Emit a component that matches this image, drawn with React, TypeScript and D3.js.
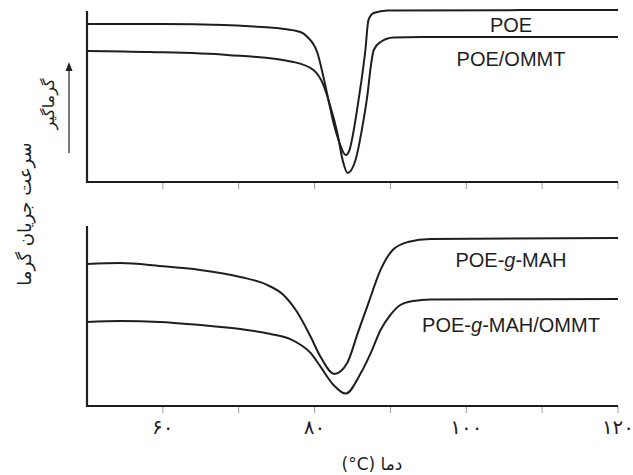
import React from "react";
import * as d3 from "d3";

// ---- data (temperature °C, heat-flow in arbitrary units 0-100 per panel) ----
const poeT = [50, 60, 68, 72, 75.5, 78.13, 79.06, 80.38, 81.17, 81.83, 82.5, 83.15, 84.1, 84.6, 85.1, 85.8, 86.7, 87.1, 87.8, 89.6, 120];
const poeV = [92.4, 92.4, 91.8, 90.9, 89.8, 87.7, 84.8, 75.4, 61.4, 48.0, 34.5, 24.6, 15.8, 18.7, 28.7, 48.0, 77.2, 94.7, 98.8, 100.3, 100.6];

const poeOmmtT = [50, 58.3, 68.5, 77.2, 79.85, 81.17, 82.1, 83.0, 83.7, 84.34, 85.4, 86.3, 87.0, 87.4, 87.8, 88.7, 90.4, 94, 120];
const poeOmmtV = [76.6, 76.0, 74.3, 70.2, 65.5, 56.7, 43.9, 28.7, 12.9, 5.3, 12.9, 32.2, 52.0, 67.3, 77.2, 81.9, 84.5, 84.8, 84.8];

const mahT = [50, 54.4, 59.6, 64.9, 70.2, 73.8, 75.9, 77.7, 79.5, 80.8, 82.6, 84.3, 85.7, 87.1, 88.7, 90.3, 92.3, 95.3, 120];
const mahV = [78.9, 79.4, 77.8, 75.6, 71.7, 67.2, 61.7, 52.2, 38.3, 27.2, 17.8, 23.9, 40.6, 57.2, 75.6, 86.7, 91.1, 92.8, 93.3];

const mahOmmtT = [50, 54.4, 59.6, 64.9, 70.2, 74.2, 76.8, 78.2, 79.5, 80.8, 82.5, 84.1, 86.1, 87.4, 88.7, 90.0, 91.3, 93.0, 95.3, 120];
const mahOmmtV = [46.7, 47.2, 46.7, 45.0, 42.8, 40.0, 37.2, 33.9, 29.4, 21.7, 11.7, 6.9, 18.3, 29.4, 42.2, 50.6, 56.1, 58.3, 59.2, 59.4];

const xDomain = [50, 120];
const minorTicks = [60, 70, 80, 90, 100, 110, 120];
const labeledTicks = [60, 80, 100, 120];
const tickLabels = ["۶۰", "۸۰", "۱۰۰", "۱۲۰"];

const xTitle = "دما (\u200E°C)";
const yTitle = "سرعت جریان گرما";
const yArrowLabel = "گرماگیر";

const W = 633;
const H = 475;
const INK = "#1e1e1e";
const LATIN = "'Liberation Sans', Arial, sans-serif";
const PERSIAN = "'DejaVu Sans', sans-serif";

const x = d3.scaleLinear().domain(xDomain).range([87, 618]);
const yTop = d3.scaleLinear().domain([0, 100]).range([182, 11]);
const yBot = d3.scaleLinear().domain([0, 100]).range([406, 226]);

function path(ts: number[], vs: number[], y: d3.ScaleLinear<number, number>) {
  const pts = ts.map((t, i) => [t, vs[i]] as [number, number]);
  return d3
    .line<[number, number]>()
    .x((d) => x(d[0]))
    .y((d) => y(d[1]))
    .curve(d3.curveMonotoneX)(pts) as string;
}

function Panel({ y, showLabels }: { y: d3.ScaleLinear<number, number>; showLabels: boolean }) {
  const [y0, y1] = y.range();
  const [xa, xb] = x.range();
  return (
    <g>
      {minorTicks.map((t) => (
        <line key={t} x1={x(t)} x2={x(t)} y1={y0} y2={y0 + 7} stroke="#9a9a9a" strokeWidth={1} />
      ))}
      <line x1={xa} x2={xa} y1={y1} y2={y0} stroke={INK} strokeWidth={2.2} />
      <line x1={xa - 1} x2={xb} y1={y0} y2={y0} stroke={INK} strokeWidth={2.2} />
      {showLabels &&
        labeledTicks.map((t, i) => (
          <text key={t} x={x(t)} y={y0 + 28} textAnchor="middle" fontFamily={PERSIAN} fontSize={20} fill={INK}>
            {tickLabels[i]}
          </text>
        ))}
    </g>
  );
}

export default function App() {
  return (
    <svg width={W} height={H} style={{ position: "absolute", left: 0, top: 0, background: "#fff" }}>
      <rect width={W} height={H} fill="#fff" />
      <Panel y={yTop} showLabels={false} />
      <Panel y={yBot} showLabels={true} />

      <g fill="none" stroke={INK} strokeWidth={2} strokeLinejoin="round">
        <path d={path(poeT, poeV, yTop)} />
        <path d={path(poeOmmtT, poeOmmtV, yTop)} />
        <path d={path(mahT, mahV, yBot)} />
        <path d={path(mahOmmtT, mahOmmtV, yBot)} />
      </g>

      <g fontFamily={LATIN} fontSize={20} fill={INK} textAnchor="middle">
        <text x={511} y={32}>POE</text>
        <text x={511} y={66}>POE/OMMT</text>
        <text x={511} y={267}>
          POE-<tspan fontStyle="italic">g</tspan>-MAH
        </text>
        <text x={511} y={332}>
          POE-<tspan fontStyle="italic">g</tspan>-MAH/OMMT
        </text>
      </g>

      {/* x title */}
      <text x={372} y={470} textAnchor="middle" direction="rtl" fontFamily={PERSIAN} fontSize={17} fill={INK}>
        {xTitle}
      </text>

      {/* y titles */}
      <text
        transform="translate(31,214) rotate(-90)"
        textAnchor="middle"
        direction="rtl"
        fontFamily={PERSIAN}
        fontSize={18}
        fill={INK}
      >
        {yTitle}
      </text>
      <text
        transform="translate(54,104) rotate(-90)"
        textAnchor="middle"
        direction="rtl"
        fontFamily={PERSIAN}
        fontSize={16}
        fill={INK}
      >
        {yArrowLabel}
      </text>
      <line x1={69} x2={69} y1={153} y2={70} stroke="#333" strokeWidth={1.3} />
      <path d="M69,62 L65.5,71 L72.5,71 Z" fill="#222" />
    </svg>
  );
}
